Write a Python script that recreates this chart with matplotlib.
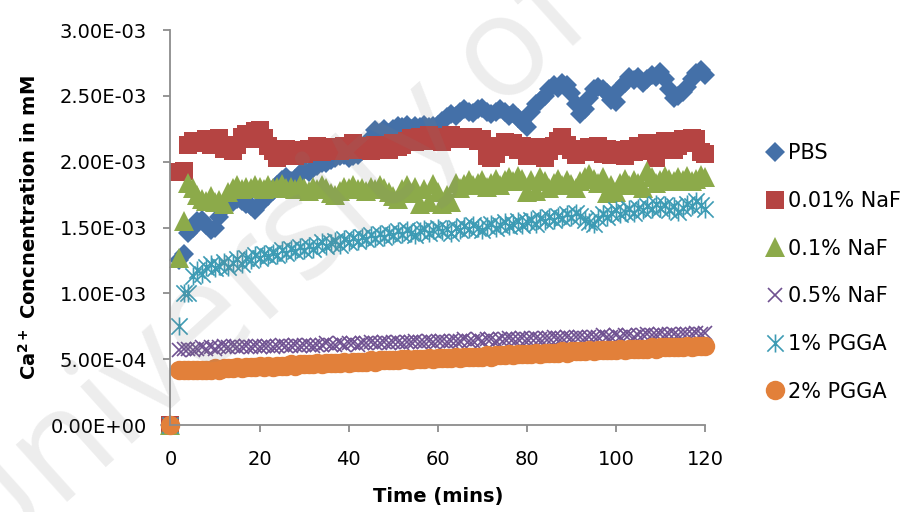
import numpy as np
import matplotlib
matplotlib.use("Agg")
import matplotlib.pyplot as plt
from matplotlib.path import Path
from matplotlib.ticker import FuncFormatter

# sampling times (mins): baseline at 0, then readings every minute from 2 to 120
time = np.concatenate(([0], np.arange(2, 121)))

# Ca2+ concentration, in units of 1e-3 mM
pbs = [0,
       1.25, 1.30, 1.46, 1.50, 1.55, 1.56, 1.52, 1.48, 1.50,
       1.58, 1.65, 1.70, 1.69, 1.72, 1.70, 1.68, 1.66, 1.63, 1.68,
       1.72, 1.74, 1.78, 1.82, 1.86, 1.88, 1.85, 1.87, 1.91, 1.94,
       1.92, 1.95, 1.97, 1.99, 1.99, 2.01, 2.03, 2.04, 2.05, 2.03,
       2.04, 2.05, 2.08, 2.12, 2.18, 2.24, 2.22, 2.25, 2.22, 2.25,
       2.27, 2.26, 2.28, 2.25, 2.27, 2.26, 2.28, 2.26, 2.27, 2.28,
       2.31, 2.34, 2.36, 2.35, 2.38, 2.40, 2.38, 2.37, 2.40, 2.41,
       2.38, 2.36, 2.38, 2.40, 2.38, 2.35, 2.37, 2.33, 2.30, 2.26,
       2.38, 2.44, 2.46, 2.50, 2.55, 2.58, 2.56, 2.60, 2.58, 2.52,
       2.44, 2.36, 2.40, 2.48, 2.55, 2.57, 2.55, 2.52, 2.47, 2.45,
       2.56, 2.60, 2.64, 2.62, 2.64, 2.60, 2.63, 2.66, 2.64, 2.68,
       2.63, 2.55, 2.48, 2.50, 2.53, 2.57, 2.63, 2.67, 2.70, 2.66]

naf_001 = [0,
           1.92, 1.93, 2.13, 2.16, 2.14, 2.15, 2.17, 2.13, 2.16,
           2.18, 2.10, 2.12, 2.08, 2.13, 2.19, 2.21, 2.17, 2.23, 2.24,
           2.18, 2.12, 2.08, 2.03, 2.05, 2.10, 2.07, 2.04, 2.09, 2.06,
           2.10, 2.08, 2.12, 2.07, 2.10, 2.09, 2.11, 2.08, 2.12, 2.10,
           2.14, 2.09, 2.12, 2.11, 2.08, 2.13, 2.10, 2.12, 2.09, 2.14,
           2.11, 2.13, 2.16, 2.18, 2.15, 2.19, 2.17, 2.20, 2.16, 2.19,
           2.15, 2.18, 2.20, 2.19, 2.17, 2.18, 2.18, 2.19, 2.16, 2.17,
           2.04, 2.03, 2.06, 2.12, 2.15, 2.11, 2.14, 2.09, 2.12, 2.04,
           2.07, 2.11, 2.06, 2.03, 2.08, 2.12, 2.16, 2.19, 2.13, 2.09,
           2.05, 2.10, 2.07, 2.11, 2.08, 2.12, 2.06, 2.10, 2.05, 2.09,
           2.07, 2.04, 2.10, 2.07, 2.12, 2.09, 2.14, 2.08, 2.03, 2.10,
           2.16, 2.13, 2.09, 2.12, 2.17, 2.14, 2.18, 2.17, 2.07, 2.06]

naf_01 = [0,
          1.27, 1.55, 1.84, 1.80, 1.75, 1.72, 1.70, 1.74, 1.69,
          1.71, 1.68, 1.77, 1.80, 1.82, 1.79, 1.81, 1.80, 1.82, 1.81,
          1.79, 1.82, 1.80, 1.81, 1.83, 1.80, 1.81, 1.79, 1.82, 1.80,
          1.78, 1.81, 1.79, 1.82, 1.80, 1.76, 1.75, 1.78, 1.81, 1.80,
          1.82, 1.79, 1.80, 1.78, 1.81, 1.79, 1.82, 1.80, 1.77, 1.74,
          1.72, 1.79, 1.82, 1.76, 1.81, 1.68, 1.79, 1.69, 1.83, 1.77,
          1.68, 1.75, 1.69, 1.84, 1.80, 1.83, 1.86, 1.82, 1.84, 1.86,
          1.81, 1.84, 1.87, 1.82, 1.86, 1.88, 1.85, 1.89, 1.87, 1.77,
          1.86, 1.78, 1.88, 1.85, 1.80, 1.84, 1.87, 1.82, 1.86, 1.83,
          1.80, 1.85, 1.88, 1.91, 1.87, 1.84, 1.88, 1.76, 1.82, 1.77,
          1.84, 1.87, 1.82, 1.86, 1.84, 1.80, 1.93, 1.88, 1.84, 1.86,
          1.89, 1.87, 1.85, 1.88, 1.86, 1.89, 1.85, 1.87, 1.90, 1.88]

naf_05 = [0,
          0.57, 0.58, 0.58, 0.57, 0.58, 0.59, 0.58, 0.59, 0.58,
          0.59, 0.60, 0.59, 0.60, 0.59, 0.59, 0.60, 0.59, 0.60, 0.59,
          0.60, 0.60, 0.59, 0.60, 0.61, 0.60, 0.60, 0.61, 0.60, 0.61,
          0.61, 0.60, 0.61, 0.61, 0.62, 0.61, 0.61, 0.62, 0.61, 0.62,
          0.62, 0.61, 0.62, 0.62, 0.63, 0.62, 0.62, 0.63, 0.62, 0.63,
          0.63, 0.62, 0.63, 0.63, 0.64, 0.63, 0.63, 0.64, 0.63, 0.64,
          0.64, 0.63, 0.64, 0.64, 0.64, 0.65, 0.64, 0.64, 0.65, 0.64,
          0.65, 0.65, 0.64, 0.65, 0.65, 0.66, 0.65, 0.65, 0.66, 0.65,
          0.66, 0.66, 0.65, 0.66, 0.66, 0.67, 0.66, 0.66, 0.67, 0.66,
          0.67, 0.67, 0.66, 0.67, 0.67, 0.67, 0.68, 0.67, 0.67, 0.68,
          0.67, 0.68, 0.68, 0.67, 0.68, 0.68, 0.69, 0.68, 0.68, 0.69,
          0.68, 0.69, 0.69, 0.68, 0.69, 0.69, 0.69, 0.70, 0.69, 0.70]

pgga_1 = [0,
          0.75, 1.00, 1.00, 1.13, 1.18, 1.15, 1.20, 1.22, 1.19,
          1.21, 1.24, 1.20, 1.23, 1.26, 1.22, 1.27, 1.25, 1.29, 1.27,
          1.30, 1.28, 1.31, 1.29, 1.33, 1.31, 1.34, 1.32, 1.35, 1.33,
          1.36, 1.34, 1.37, 1.39, 1.36, 1.38, 1.40, 1.37, 1.41, 1.39,
          1.42, 1.40, 1.43, 1.41, 1.44, 1.42, 1.45, 1.43, 1.46, 1.44,
          1.47, 1.45, 1.48, 1.46, 1.44, 1.47, 1.49, 1.46, 1.48, 1.50,
          1.47, 1.49, 1.46, 1.50, 1.48, 1.51, 1.49, 1.52, 1.50, 1.48,
          1.51, 1.53, 1.50, 1.52, 1.54, 1.51, 1.53, 1.55, 1.52, 1.54,
          1.56, 1.53, 1.57, 1.55, 1.58, 1.56, 1.59, 1.57, 1.60, 1.58,
          1.61, 1.59, 1.56, 1.54, 1.53, 1.57, 1.60, 1.58, 1.61, 1.63,
          1.60, 1.62, 1.64, 1.61, 1.65, 1.63, 1.66, 1.64, 1.68, 1.65,
          1.67, 1.63, 1.66, 1.62, 1.65, 1.68, 1.66, 1.70, 1.67, 1.64]

pgga_2 = [0,
          0.42, 0.42, 0.42, 0.42, 0.42, 0.42, 0.42, 0.42, 0.43,
          0.42, 0.43, 0.43, 0.43, 0.44, 0.43, 0.44, 0.44, 0.44, 0.45,
          0.44, 0.45, 0.44, 0.45, 0.45, 0.45, 0.46, 0.45, 0.46, 0.46,
          0.46, 0.46, 0.47, 0.46, 0.47, 0.47, 0.47, 0.47, 0.48, 0.47,
          0.48, 0.48, 0.48, 0.48, 0.49, 0.48, 0.49, 0.49, 0.49, 0.49,
          0.49, 0.50, 0.50, 0.49, 0.50, 0.50, 0.50, 0.51, 0.50, 0.51,
          0.51, 0.51, 0.51, 0.52, 0.51, 0.52, 0.52, 0.52, 0.52, 0.52,
          0.53, 0.52, 0.53, 0.53, 0.53, 0.54, 0.53, 0.54, 0.54, 0.54,
          0.54, 0.55, 0.54, 0.55, 0.55, 0.55, 0.55, 0.56, 0.55, 0.56,
          0.56, 0.56, 0.56, 0.57, 0.56, 0.57, 0.57, 0.57, 0.57, 0.57,
          0.58, 0.57, 0.58, 0.58, 0.58, 0.58, 0.58, 0.59, 0.58, 0.59,
          0.59, 0.59, 0.59, 0.59, 0.59, 0.60, 0.59, 0.60, 0.60, 0.60]

labels = ["PBS", "0.01% NaF", "0.1% NaF", "0.5% NaF", "1% PGGA", "2% PGGA"]
colors = ["#4470A8", "#B54442", "#8CAA4A", "#6F5191", "#3D9BB4", "#E2803A"]

# asterisk marker: an X with a vertical bar through it
asterisk = Path([(-0.45, -0.45), (0.45, 0.45), (-0.45, 0.45), (0.45, -0.45),
                 (0, -0.5), (0, 0.5)],
                [Path.MOVETO, Path.LINETO, Path.MOVETO, Path.LINETO,
                 Path.MOVETO, Path.LINETO])

styles = [
    dict(marker="D", ms=10, mew=0),
    dict(marker="s", ms=13.5, mew=0),
    dict(marker="^", ms=14, mew=0),
    dict(marker="x", ms=10.5, mew=1.2),
    dict(marker=asterisk, ms=13, mew=1.2),
    dict(marker="o", ms=14, mew=0),
]

plt.rcParams["font.family"] = ["DejaVu Sans"]
plt.rcParams["mathtext.fontset"] = "dejavusans"

fig = plt.figure(figsize=(9.04, 5.12), dpi=100)
ax = fig.add_axes([0.1886, 0.1699, 0.5913, 0.7715])

series = [pbs, naf_001, naf_01, naf_05, pgga_1, pgga_2]
for vals, lab, col, st in zip(series, labels, colors, styles):
    ax.plot(time, np.array(vals) * 1e-3, linestyle="none", color=col,
            mfc=col, mec=col, label=lab, clip_on=False, **st)

ax.set_xlim(0, 120)
ax.set_ylim(0, 3e-3)
ax.set_xticks(np.arange(0, 121, 20))
ax.set_yticks(np.arange(0, 3.01e-3, 0.5e-3))
ax.yaxis.set_major_formatter(FuncFormatter(lambda v, p: f"{v:.2E}"))

for side in ["top", "right"]:
    ax.spines[side].set_visible(False)
for side in ["left", "bottom"]:
    ax.spines[side].set_color("#8c8c8c")
    ax.spines[side].set_linewidth(1.3)
ax.tick_params(axis="both", which="major", length=5, width=1.3,
               color="#8c8c8c", labelsize=14, direction="out")
ax.tick_params(axis="y", pad=12)
ax.tick_params(axis="x", pad=13)

ax.set_xlabel("Time (mins)", fontsize=14, fontweight="bold", labelpad=13)
ax.set_ylabel(r"Ca$^{\mathbf{2+}}$ Concnentration in mM", fontsize=14,
              fontweight="bold", labelpad=8)

ax.legend(loc="center left", bbox_to_anchor=(0.848, 0.468),
          bbox_transform=fig.transFigure, frameon=False, fontsize=15,
          labelspacing=1.33, handlelength=0.8, handletextpad=0.25,
          borderpad=0, borderaxespad=0, markerscale=1.0)

# faint watermark across the figure
fig.text(-0.02, -0.13, "University of Malaya", fontsize=102, color="#808080",
         alpha=0.14, rotation=42, rotation_mode="anchor", ha="left",
         va="baseline", family="Open Sans", zorder=10)

fig.savefig("out.png", dpi=100)
